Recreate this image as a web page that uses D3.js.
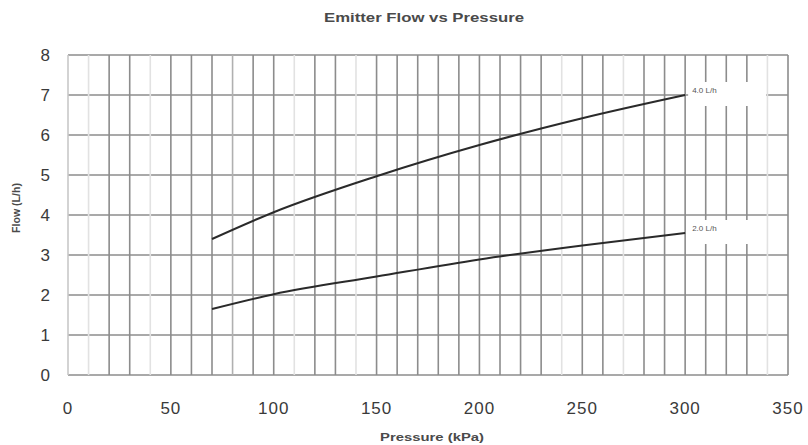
<!DOCTYPE html>
<html>
<head>
<meta charset="utf-8">
<script src="https://cdn.jsdelivr.net/npm/d3@7"></script>
<style>
  html, body { margin: 0; padding: 0; background: #fff; }
  svg { display: block; font-family: "Liberation Sans", Arial, Helvetica, sans-serif; }
</style>
</head>
<body>
<svg id="chart" width="808" height="445"></svg>
<script>
// ---- data ----
const title = "Emitter Flow vs Pressure";
const xLabel = "Pressure (kPa)";
const yLabel = "Flow (L/h)";
const xTicks = [0, 50, 100, 150, 200, 250, 300, 350];
const yTicks = [0, 1, 2, 3, 4, 5, 6, 7, 8];
const xGrid = [0, 10, 20, 30, 40, 50, 60, 70, 80, 90, 100, 110, 120, 130, 140, 150, 160, 170, 180, 190, 200, 210, 220, 230, 240, 250, 260, 270, 280, 290, 300, 310, 320, 330, 340, 350];
const lightGrid = [10, 40, 110, 140, 240, 270, 340];
const pressure = [70, 100, 150, 200, 250, 300];
const flow40 = [3.4, 4.07, 4.97, 5.75, 6.42, 7.0];
const flow20 = [1.65, 2.02, 2.46, 2.89, 3.24, 3.55];
const seriesNames = ["4.0 L/h", "2.0 L/h"];

// ---- scales ----
const svg = d3.select("#chart");
const x = d3.scaleLinear().domain([0, 350]).range([68, 788]);
const y = d3.scaleLinear().domain([0, 8]).range([375, 55]);

// ---- grid ----
const g = svg.append("g");
g.selectAll("line.h").data(yTicks).join("line")
  .attr("x1", x(0)).attr("x2", x(350))
  .attr("y1", d => y(d)).attr("y2", d => y(d))
  .attr("stroke", "#8c8c8c").attr("stroke-width", 1.6);
g.selectAll("line.v").data(xGrid).join("line")
  .attr("x1", d => x(d)).attr("x2", d => x(d))
  .attr("y1", y(0)).attr("y2", y(8))
  .attr("stroke", d => lightGrid.includes(d) ? "#e2e2e2" : (d === 0 ? "#c8c8c8" : (d === 80 ? "#b0b0b0" : "#8c8c8c")))
  .attr("stroke-width", 1.6);

// ---- label background boxes ----
const series = [
  { name: seriesNames[0], values: flow40 },
  { name: seriesNames[1], values: flow20 }
];
series.forEach(s => {
  const last = s.values[s.values.length - 1];
  svg.append("rect")
    .attr("x", x(300) + 3).attr("y", y(last) - 13)
    .attr("width", 78).attr("height", 24)
    .attr("fill", "#fff");
});

// ---- curves ----
const line = d3.line()
  .x((d, i) => x(pressure[i]))
  .y(d => y(d))
  .curve(d3.curveMonotoneX);
series.forEach(s => {
  svg.append("path")
    .attr("d", line(s.values))
    .attr("fill", "none")
    .attr("stroke", "#2a2a2a")
    .attr("stroke-width", 2);
  const last = s.values[s.values.length - 1];
  svg.append("text")
    .attr("x", x(300) + 7).attr("y", y(last) - 2)
    .attr("font-size", 8).attr("fill", "#555")
    .text(s.name);
});

// ---- tick labels ----
svg.selectAll("text.xt").data(xTicks).join("text")
  .attr("x", d => x(d)).attr("y", 414)
  .attr("text-anchor", "middle")
  .attr("font-size", 17).attr("letter-spacing", 1).attr("fill", "#3a3a3a")
  .text(d => d);
svg.selectAll("text.yt").data(yTicks).join("text")
  .attr("x", 50).attr("y", d => y(d) + 6)
  .attr("text-anchor", "end")
  .attr("font-size", 17).attr("fill", "#3a3a3a")
  .text(d => d);

// ---- titles ----
svg.append("text")
  .attr("x", 424).attr("y", 22)
  .attr("text-anchor", "middle")
  .attr("font-size", 13).attr("font-weight", "bold").attr("fill", "#4a4a4a")
  .attr("textLength", 200).attr("lengthAdjust", "spacingAndGlyphs")
  .text(title);
svg.append("text")
  .attr("x", 432).attr("y", 441)
  .attr("text-anchor", "middle")
  .attr("font-size", 10).attr("font-weight", "bold").attr("fill", "#4a4a4a")
  .attr("textLength", 104).attr("lengthAdjust", "spacingAndGlyphs")
  .text(xLabel);
svg.append("text")
  .attr("transform", "translate(20,208) rotate(-90)")
  .attr("text-anchor", "middle")
  .attr("font-size", 10).attr("font-weight", "bold").attr("fill", "#4a4a4a")
  .attr("textLength", 50).attr("lengthAdjust", "spacingAndGlyphs")
  .text(yLabel);
</script>
</body>
</html>
